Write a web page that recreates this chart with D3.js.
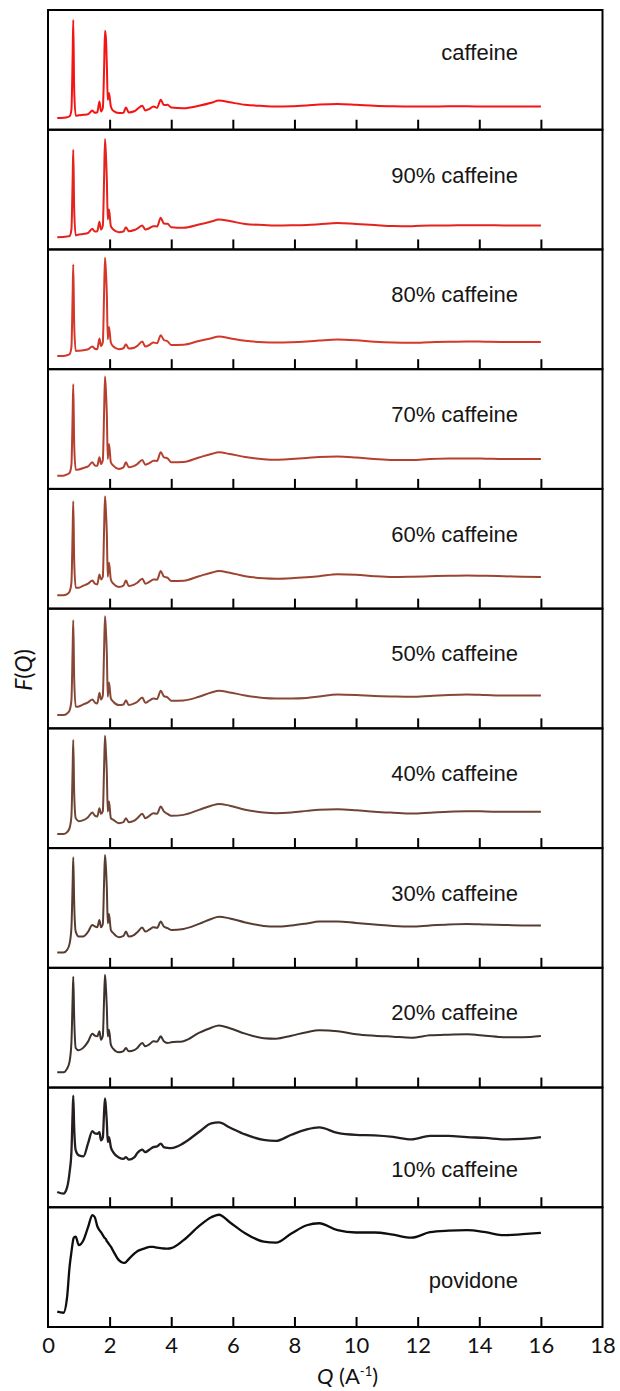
<!DOCTYPE html>
<html>
<head>
<meta charset="utf-8">
<script src="https://cdn.jsdelivr.net/npm/d3@7"></script>
<style>
  body { margin: 0; background: #fff; }
</style>
</head>
<body>
<div id="chart"></div>
<script>
// shared Q grid (A^-1), values are F(Q) (0 = panel floor)
var qValues = [
  0.30, 0.50, 0.62, 0.70, 0.76, 0.80, 0.82, 0.85,
  0.90, 1.00, 1.15, 1.30, 1.44, 1.52, 1.60, 1.67,
  1.72, 1.78, 1.82, 1.85, 1.88, 1.91, 1.94, 1.98,
  2.04, 2.12, 2.30, 2.45, 2.53, 2.62, 2.80, 2.90,
  3.06, 3.16, 3.30, 3.42, 3.54, 3.66, 3.76, 3.88,
  4.00, 4.40, 4.90, 5.30, 5.55, 5.90, 6.40, 7.00,
  7.40, 7.90, 8.40, 8.80, 9.40, 10.0, 10.6, 11.2,
  11.8, 12.4, 13.0, 13.6, 14.2, 14.8, 15.4, 16.0
];

var fCaffeine = [
  11.7, 12, 12.5, 13.5, 20, 75, 110, 40,
  14, 14.5, 15, 15.5, 19.3, 17, 17.5, 28.3,
  18.3, 22, 60, 99.3, 92, 65, 30, 36.7,
  23.3, 19, 16.7, 17, 22.3, 17.3, 18.5, 20.7,
  24, 19.3, 21, 23.3, 22, 30, 24.7, 25,
  22.3, 21.5, 24, 27, 29.3, 27.5, 25, 23.8,
  23.3, 23.5, 24.3, 25.2, 25.8, 25, 24, 23.5,
  23.3, 23.3, 23.5, 23.5, 23.3, 23.3, 23.3, 23.3
];
var f90 = [
  12.3, 12.5, 13, 13.5, 20, 70, 100, 40,
  14, 15, 15.5, 16.5, 20.7, 18, 18.3, 27.7,
  20, 24, 70, 110.7, 95, 70, 30, 40,
  23.3, 20, 17.3, 18, 22.3, 18.3, 19.5, 21,
  24, 20, 21.5, 23.3, 23, 31.7, 26, 25.7,
  22.3, 21.7, 25, 28, 30, 28.5, 25.5, 24.5,
  24, 24.2, 24.6, 25.3, 26.5, 25.5, 24.5, 23.5,
  23.3, 24, 24, 24.3, 24.3, 24, 24, 24
];
var f80 = [
  13.3, 13.3, 14, 15, 22, 75, 105, 45,
  18.3, 18.5, 19, 20, 22.7, 20.5, 20, 30.7,
  23.3, 27, 75, 111.7, 98, 75, 30, 42.3,
  26.7, 22.7, 20, 21, 25, 20.7, 21.5, 23.3,
  27.7, 22.7, 24.5, 26.7, 26, 34, 29.3, 28,
  24.3, 24.5, 28.3, 31, 32.7, 31, 28.5, 27,
  26.7, 27, 27.8, 28.7, 29.8, 29, 27.5, 26.7,
  26.5, 27, 27.5, 27.8, 27.5, 27.3, 27.3, 27.3
];
var f70 = [
  13.3, 13.3, 14.5, 16, 24, 75, 105, 45,
  19.3, 19.5, 21, 22.5, 26.7, 23.5, 23.3, 31.7,
  25, 29, 75, 112.7, 98, 75, 30, 45,
  26.7, 23.3, 20, 21.5, 26.7, 21.7, 23, 25,
  29, 24.3, 26, 28.3, 28, 36.7, 31.7, 30.7,
  26.7, 27, 31.5, 35, 36.7, 35, 32, 29.8,
  29.3, 30, 31, 32, 32.5, 31.5, 30, 29,
  29, 30, 30.5, 30.5, 30.3, 30, 30, 30
];
var f60 = [
  13.3, 13.3, 14.5, 17, 26, 78, 107.7, 48,
  21, 21, 23, 25, 28.3, 25, 24.3, 34.3,
  29.3, 32, 78, 112.7, 98, 75, 32, 46,
  29.3, 25, 21.7, 23, 28.3, 22.7, 24, 26,
  30, 25, 27, 29.3, 29, 37.7, 32, 31,
  27.7, 28, 32.5, 36, 37.7, 36, 32.5, 30.5,
  30, 30.5, 31.5, 32.5, 34.5, 34, 32.5, 31.7,
  32, 32.5, 33, 33.3, 33, 32.5, 32, 31.7
];
var f50 = [
  13.3, 13.3, 15, 18, 28, 80, 108.3, 50,
  21.7, 22, 24, 26, 29, 26, 25, 35.7,
  29, 33, 78, 112.3, 98, 75, 31.7, 46,
  30, 26.7, 23.3, 24, 28.3, 23.3, 25, 26.7,
  31, 25.7, 28, 30, 29.5, 37.7, 32.3, 31,
  27.7, 28, 31.7, 36, 37.7, 36, 33, 30.5,
  30, 30, 30.5, 32, 34, 33.5, 32.5, 32,
  31.7, 32.5, 33.5, 34, 33.5, 33, 33, 33
];
var f40 = [
  14, 14, 16, 20, 32, 80, 108.3, 55,
  30, 27, 28, 31, 35.7, 32.5, 31.7, 40,
  34.3, 37, 80, 112.7, 97, 75, 36.7, 46.7,
  30, 28.3, 25, 26, 30, 26, 27.5, 30,
  34.3, 30, 32.5, 35, 34.5, 41.7, 36.7, 34.3,
  32.3, 33.3, 38.3, 42.5, 44.3, 42.5, 38.5, 35.7,
  35, 35.7, 37.3, 38.5, 39, 38, 36.5, 35.5,
  34.7, 35.5, 36.5, 37, 36.7, 36.3, 36.3, 36.3
];
var f30 = [
  15.3, 15.3, 18, 24, 40, 85, 110.7, 65,
  36.3, 31.3, 31.5, 36, 43, 41.5, 40.7, 48,
  40.7, 44, 85, 113, 101, 80, 44.7, 54,
  38, 34.7, 30.7, 32, 36.3, 31.3, 33, 35.7,
  40.3, 36.3, 38.5, 40.7, 40, 46.3, 41.3, 39.7,
  38, 39, 44, 49, 51.3, 49.5, 45.5, 42,
  41.3, 42.5, 44.5, 46.3, 46.5, 45, 43.5, 42,
  41.3, 42.5, 43.5, 44, 43.5, 43, 42.5, 42.3
];
var f20 = [
  15.3, 15.3, 19, 26, 45, 90, 111, 70,
  39.7, 37.3, 40, 46, 54, 52, 51.3, 56.3,
  48, 52, 88, 113, 100, 80, 51.3, 58,
  43, 38.7, 35.3, 36.5, 39.7, 36.3, 37.5, 39.7,
  44.7, 41.3, 43.5, 46.3, 46, 51.3, 46.3, 44.7,
  45.3, 46.5, 54.7, 60, 62.3, 59.5, 54, 49.5,
  49, 52, 55.5, 57.5, 56.5, 53.5, 52, 51,
  50, 52.3, 53, 53.3, 52, 50.5, 50.5, 51.7
];
var f10 = [
  15.3, 13.7, 20, 35, 55, 95, 112, 80,
  57, 52, 51, 64, 76.3, 74, 73.7, 75.3,
  67, 70, 95, 109, 100, 85, 65.3, 70.3,
  60.3, 55, 50, 48.5, 50.3, 47.7, 50, 54.3,
  57.7, 55.3, 58, 60.3, 61, 63.7, 60.3, 59.5,
  59.3, 64.3, 75.5, 84, 85, 80, 73, 67.5,
  66.5, 72.7, 78, 80, 74.5, 72.5, 72, 70.5,
  68, 71.5, 71.5, 70.3, 69.5, 68, 68.5, 70.3
];
var fPovidone = [
  15.3, 14.3, 30, 60.3, 75, 84, 88, 90,
  90.5, 82, 87, 100, 112, 110, 101, 97,
  95, 92, 90, 89, 88, 86, 85, 83,
  80.5, 76, 67, 64.3, 65, 68, 73.5, 76,
  78, 79, 80.3, 80.3, 79.5, 79, 78.7, 78.5,
  79, 87, 101, 110, 112.5, 105, 94, 85.5,
  84.5, 93.7, 102, 104, 97, 94.7, 94.7, 92.5,
  89.5, 95, 96.5, 97, 95, 92, 93, 94.3
];

var sampleNames = ["caffeine", "90% caffeine", "80% caffeine", "70% caffeine", "60% caffeine",
  "50% caffeine", "40% caffeine", "30% caffeine", "20% caffeine", "10% caffeine", "povidone"];
var sampleValues = [fCaffeine, f90, f80, f70, f60, f50, f40, f30, f20, f10, fPovidone];
var sampleColors = ["#f41414", "#e3231c", "#d3382a", "#b5402f", "#9d4431", "#874837",
  "#704536", "#593d33", "#3e322d", "#241e1e", "#0e0e0e"];
var xTicks = [0, 2, 4, 6, 8, 10, 12, 14, 16, 18];

// label baseline offsets from each panel's top
var labelDy = [50, 53, 53, 53, 53, 52, 53, 53, 52, 89, 81];

var width = 620, height = 1391;
var plotLeft = 48, plotRight = 602.5, plotTop = 10, plotBottom = 1327;

var svg = d3.select("#chart").append("svg")
  .attr("width", width)
  .attr("height", height);

var x = d3.scaleLinear().domain([0, 18]).range([plotLeft, plotRight]);
var band = d3.scaleBand().domain(sampleNames).range([plotTop, plotBottom]);
var ph = band.bandwidth();
var y = d3.scaleLinear().domain([0, 120]).range([ph, 0]);

var line = d3.line()
  .x(function(d) { return x(d[0]); })
  .y(function(d) { return y(d[1]); })
  .curve(d3.curveMonotoneX);

var samples = sampleNames.map(function(name, i) {
  return { name: name, values: sampleValues[i], color: sampleColors[i], dy: labelDy[i] };
});

var panel = svg.selectAll(".panel")
  .data(samples)
  .enter().append("g")
  .attr("class", "panel")
  .attr("transform", function(d) { return "translate(0," + band(d.name) + ")"; });

panel.append("path")
  .attr("d", function(d) { return line(qValues.map(function(q, i) { return [q, d.values[i]]; })); })
  .attr("fill", "none")
  .attr("stroke", function(d) { return d.color; })
  .attr("stroke-width", function(d, i) { return i > 8 ? 2.3 : 2; })
  .attr("stroke-linejoin", "round");

// small inward ticks at the bottom of every panel
panel.append("g")
  .attr("transform", "translate(0," + ph + ")")
  .each(function() {
    var g = d3.select(this);
    g.call(d3.axisBottom(x).tickValues(d3.range(2, 17, 2)).tickSize(-10).tickFormat(""));
    g.select(".domain").remove();
    g.selectAll(".tick line").attr("stroke", "#000").attr("stroke-width", 2);
  });

panel.append("rect")
  .attr("x", plotLeft)
  .attr("y", 0)
  .attr("width", plotRight - plotLeft)
  .attr("height", ph)
  .attr("fill", "none")
  .attr("stroke", "#000")
  .attr("stroke-width", 2);

panel.append("text")
  .attr("x", 518)
  .attr("y", function(d) { return d.dy; })
  .attr("text-anchor", "end")
  .style("font-family", "'Liberation Sans', Arial, sans-serif")
  .style("font-size", "22px")
  .attr("fill", "#161616")
  .text(function(d) { return d.name; });

// bottom tick labels
var xAxis = svg.append("g")
  .attr("transform", "translate(0," + plotBottom + ")")
  .call(d3.axisBottom(x).tickValues(xTicks).tickSize(0).tickPadding(10));
xAxis.select(".domain").remove();
xAxis.selectAll("text")
  .style("font-family", "Lato, 'Open Sans', sans-serif")
  .style("font-weight", 400)
  .style("font-size", "22px")
  .attr("fill", "#111");

// x title
var xTitle = svg.append("text")
  .attr("x", 317)
  .attr("y", 1384)
  .style("font-family", "Lato, 'Open Sans', sans-serif")
  .style("font-weight", 400)
  .style("font-size", "22px")
  .attr("fill", "#111");
xTitle.append("tspan").style("font-style", "italic").text("Q");
xTitle.append("tspan").text(" (A");
xTitle.append("tspan").attr("dy", -8).style("font-size", "13px").text("-1");
xTitle.append("tspan").attr("dy", 8).text(")");

// y title
var yTitle = svg.append("text")
  .attr("transform", "translate(32,670) rotate(-90)")
  .attr("text-anchor", "middle")
  .style("font-family", "Lato, 'Open Sans', sans-serif")
  .style("font-weight", 400)
  .style("font-size", "23px")
  .attr("fill", "#111");
yTitle.append("tspan").style("font-style", "italic").text("F");
yTitle.append("tspan").text("(");
yTitle.append("tspan").style("font-style", "italic").text("Q");
yTitle.append("tspan").text(")");
</script>
</body>
</html>
